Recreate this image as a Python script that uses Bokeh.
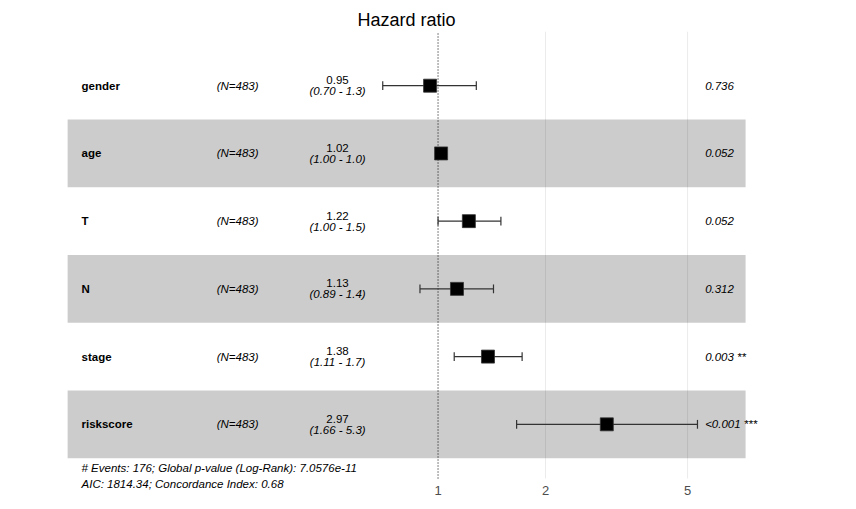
from bokeh.plotting import figure
from bokeh.models import ColumnDataSource, FixedTicker
from bokeh.core.properties import value
from bokeh.embed import file_html
from bokeh.resources import INLINE

# ---- data ----
variables = ["gender", "age", "T", "N", "stage", "riskscore"]
n_obs = [483, 483, 483, 483, 483, 483]
hr = [0.95, 1.02, 1.22, 1.13, 1.38, 2.97]
ci_low = [0.70, 1.00, 1.00, 0.89, 1.11, 1.66]
ci_high = [1.28, 1.04, 1.50, 1.43, 1.72, 5.33]
p_labels = ["0.736", "0.052", "0.052", "0.312", "0.003 **", "<0.001 ***"]
x_ticks = [1, 2, 5]
annotation_lines = [
    "# Events: 176; Global p-value (Log-Rank): 7.0576e-11",
    "AIC: 1814.34; Concordance Index: 0.68",
]

FONT = "Liberation Sans"
nrow = len(variables)
rows = [nrow - i for i in range(nrow)]  # gender at top

# ---- layout constants ----
X_START, X_END = 0.05948, 14.866
COL_NAME = 0.1003
COL_N = 0.2745
COL_EST = 0.523
COL_P = 5.6
BAND_L, BAND_R = 0.0917, 7.27
PANEL_LO, PANEL_HI = 0.2, nrow + 0.8
Y_BOTTOM = PANEL_HI - 478 * (PANEL_HI - PANEL_LO) / 447.0

p = figure(width=856, height=509, x_axis_type="log",
           x_range=(X_START, X_END), y_range=(Y_BOTTOM, PANEL_HI),
           output_backend="svg", toolbar_location=None,
           min_border_left=0, min_border_right=0,
           min_border_top=31, min_border_bottom=0)
p.outline_line_color = None
p.background_fill_color = "white"
p.border_fill_color = "white"
p.yaxis.visible = False
p.ygrid.visible = False
p.xgrid.visible = False

ax = p.xaxis[0]
ax.fixed_location = PANEL_LO
ax.ticker = FixedTicker(ticks=x_ticks)
ax.major_label_overrides = {t: str(t) for t in x_ticks}
ax.axis_line_color = None
ax.major_tick_line_color = None
ax.minor_tick_line_color = None
ax.major_label_text_font = FONT
ax.major_label_text_font_size = "13px"
ax.major_label_text_color = "#4D4D4D"
ax.major_label_standoff = 1

p.title.text = "Hazard ratio"
p.title.align = "left"
p.title.offset = 357
p.title.standoff = 4
p.title.text_font = FONT
p.title.text_font_style = "normal"
p.title.text_font_size = "18px"
p.title.text_color = "black"

# vertical grid lines (panel height only)
p.segment(x0=x_ticks[1:], x1=x_ticks[1:], y0=PANEL_LO, y1=PANEL_HI,
          line_color="#EBEBEB", line_width=1)

# alternating shaded bands
for i, r in enumerate(rows):
    if i % 2 == 1:
        p.quad(left=BAND_L, right=BAND_R, bottom=r - 0.5, top=r + 0.5,
               fill_color="black", fill_alpha=0.2, line_color=None)

# reference line at HR = 1
p.segment(x0=[1], x1=[1], y0=PANEL_LO, y1=PANEL_HI, line_color="black",
          line_dash="1 2", line_width=1)

src = ColumnDataSource(dict(
    y=rows, hr=hr, lo=ci_low, hi=ci_high,
    cap_b=[r - 0.065 for r in rows], cap_t=[r + 0.065 for r in rows],
    name=variables, nlab=[f"(N={n})" for n in n_obs],
    est=[f"{h:.2f}" for h in hr],
    ci=[f"({l:.2f} - {u:.1f})" for l, u in zip(ci_low, ci_high)],
    pv=p_labels,
    xname=[COL_NAME] * nrow, xn=[COL_N] * nrow, xest=[COL_EST] * nrow, xp=[COL_P] * nrow,
))

p.segment(x0="lo", x1="hi", y0="y", y1="y", source=src, line_color="#333333", line_width=1.2)
p.segment(x0="lo", x1="lo", y0="cap_b", y1="cap_t", source=src, line_color="#333333", line_width=1.2)
p.segment(x0="hi", x1="hi", y0="cap_b", y1="cap_t", source=src, line_color="#333333", line_width=1.2)
p.scatter(x="hr", y="y", source=src, marker="square", size=13,
          fill_color="black", line_color="#333333", line_width=0.8)

p.text(x="xname", y="y", text="name", source=src, text_font=value(FONT),
       text_font_style="bold", text_font_size="11.5px", text_baseline="middle",
       text_align="left", text_color="black")
p.text(x="xn", y="y", text="nlab", source=src, text_font=value(FONT),
       text_font_style="italic", text_font_size="11.5px", text_baseline="middle",
       text_align="center", text_color="black")
p.text(x="xest", y="y", text="est", source=src, text_font=value(FONT),
       text_font_size="11.5px", text_baseline="middle", text_align="center",
       text_color="black", y_offset=-5.5)
p.text(x="xest", y="y", text="ci", source=src, text_font=value(FONT),
       text_font_style="italic", text_font_size="11.5px", text_baseline="middle",
       text_align="center", text_color="black", y_offset=5.5)
p.text(x="xp", y="y", text="pv", source=src, text_font=value(FONT),
       text_font_style="italic", text_font_size="11.5px", text_baseline="middle",
       text_align="left", text_color="black")

ann = ColumnDataSource(dict(
    x=[COL_NAME] * len(annotation_lines),
    y=[0.5] * len(annotation_lines),
    text=annotation_lines,
    yo=[10 + 16 * k for k in range(len(annotation_lines))],
))
p.text(x="x", y="y", text="text", source=ann, y_offset="yo", text_font=value(FONT),
       text_font_style="italic", text_font_size="11.5px", text_baseline="middle",
       text_align="left", text_color="black")

open("out.html", "w").write(file_html(p, INLINE))
